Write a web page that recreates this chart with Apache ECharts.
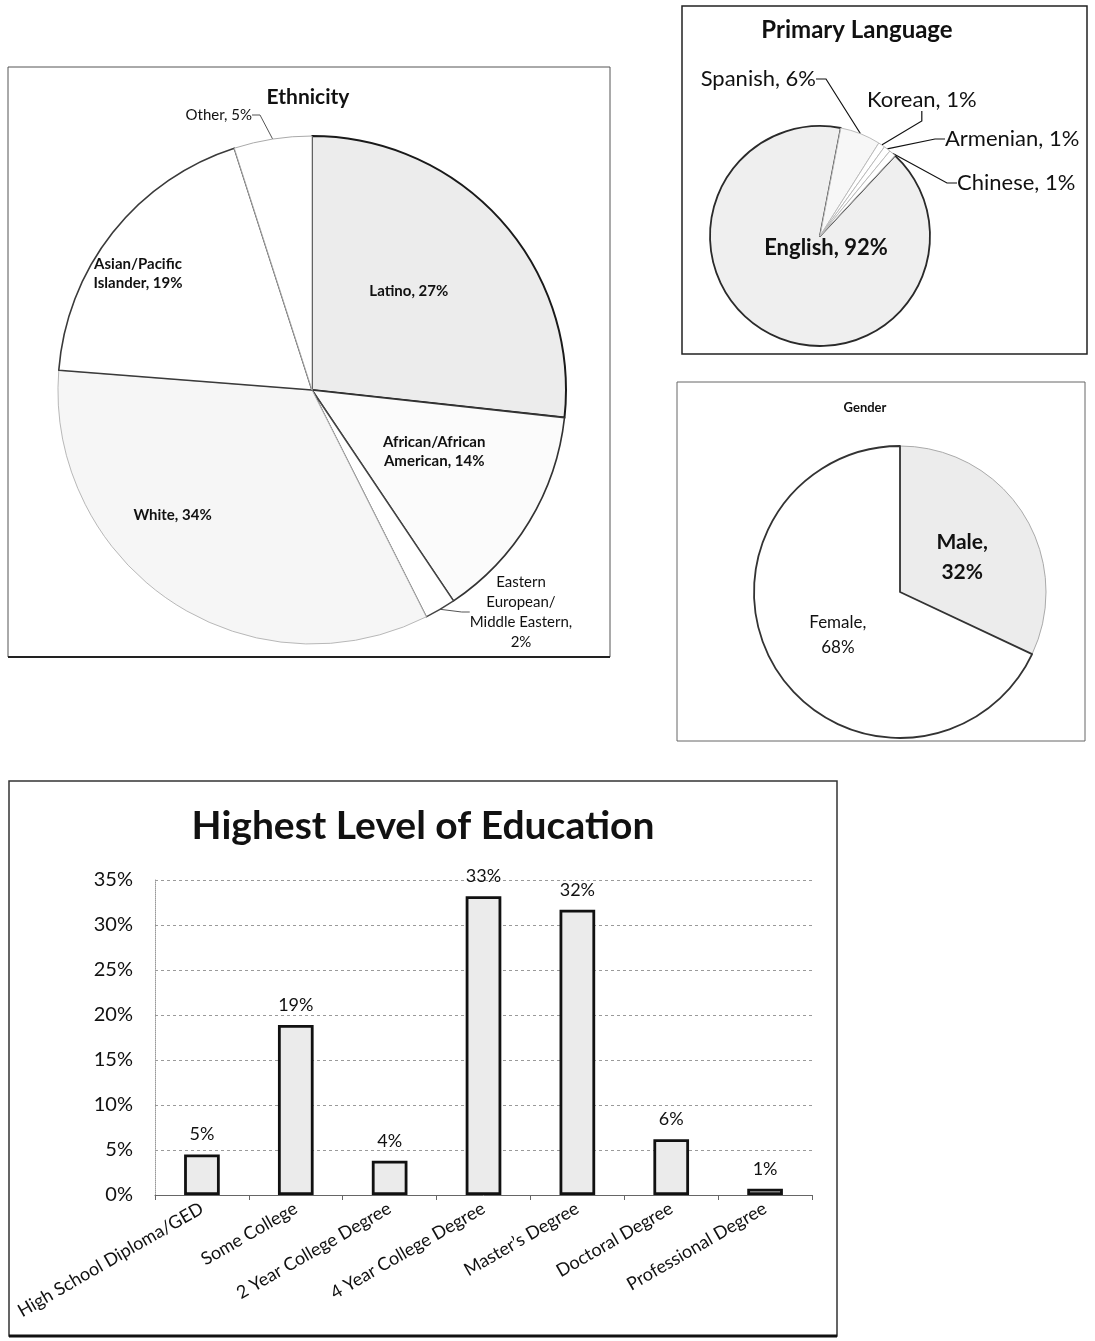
<!DOCTYPE html>
<html>
<head>
<meta charset="utf-8">
<script src="https://cdn.jsdelivr.net/npm/echarts@6/dist/echarts.min.js"></script>
<style>
  html, body { margin: 0; padding: 0; background: #ffffff; }
  #chart { width: 1095px; height: 1341px; }
</style>
</head>
<body>
<div id="chart"></div>
<script>
// ---------- data ----------
const ethnicityNames = ['Latino', 'African/African\nAmerican', 'Eastern\nEuropean/\nMiddle Eastern', 'White', 'Asian/Pacific\nIslander', 'Other'];
const ethnicityValues = [27, 14, 2, 34, 19, 5];

const languageNames = ['English', 'Spanish', 'Korean', 'Armenian', 'Chinese'];
const languageValues = [92, 6, 1, 1, 1];

const genderNames = ['Male', 'Female'];
const genderValues = [32, 68];

const educationCategories = ['High School Diploma/GED', 'Some College', '2 Year College Degree', '4 Year College Degree', 'Master\u2019s Degree', 'Doctoral Degree', 'Professional Degree'];
const educationValues = [4.5, 18.9, 3.8, 33.2, 31.7, 6.2, 0.7];
const educationTicks = [0, 5, 10, 15, 20, 25, 30, 35];

// ---------- styles ----------
const FONT = 'Lato, "Open Sans", "DejaVu Sans", sans-serif';

const ethnicityStyles = [
  { color: '#ececec', borderColor: '#1a1a1a', borderWidth: 2 },
  { color: '#fbfbfb', borderColor: '#333', borderWidth: 1.6 },
  { color: '#ffffff', borderColor: '#444', borderWidth: 1.4 },
  { color: '#f6f6f6', borderColor: '#b8b8b8', borderWidth: 1 },
  { color: '#ffffff', borderColor: '#3a3a3a', borderWidth: 1.6 },
  { color: '#ffffff', borderColor: '#aaa', borderWidth: 1 }
];
const ethnicityOutside = [false, false, true, false, false, true];

const languageStyles = [
  { color: '#efefef', borderColor: '#2a2a2a', borderWidth: 1.8 },
  { color: '#f7f7f7', borderColor: '#bbb', borderWidth: 1 },
  { color: '#ffffff', borderColor: '#bbb', borderWidth: 1 },
  { color: '#ffffff', borderColor: '#bbb', borderWidth: 1 },
  { color: '#ffffff', borderColor: '#bbb', borderWidth: 1 }
];

const genderStyles = [
  { color: '#ececec', borderColor: '#aaa', borderWidth: 1 },
  { color: '#ffffff', borderColor: '#333', borderWidth: 1.8 }
];

const ethnicityData = ethnicityNames.map((n, i) => ({
  name: n,
  value: ethnicityValues[i],
  itemStyle: ethnicityStyles[i],
  label: ethnicityOutside[i]
    ? { position: 'outside', fontWeight: 'normal', fontSize: 15, lineHeight: 20 }
    : { position: 'inside', fontWeight: 'bold', fontSize: 15, lineHeight: 19 },
  labelLine: { show: ethnicityOutside[i] }
}));

const languageData = languageNames.map((n, i) => ({
  name: n,
  value: languageValues[i],
  itemStyle: languageStyles[i],
  label: i === 0
    ? { position: 'center', fontWeight: 'bold', fontSize: 22 }
    : { position: 'outside', fontWeight: 'normal', fontSize: 22 },
  labelLine: { show: i !== 0 }
}));

const genderData = genderNames.map((n, i) => ({
  name: n,
  value: genderValues[i],
  itemStyle: genderStyles[i],
  label: i === 0
    ? { fontWeight: 'bold', fontSize: 21, lineHeight: 30 }
    : { fontWeight: 'normal', fontSize: 17, lineHeight: 25 }
}));

const chart = echarts.init(document.getElementById('chart'), null, { renderer: 'canvas' });

const option = {
  backgroundColor: '#ffffff',
  animation: false,
  textStyle: { fontFamily: FONT },
  graphic: [
    // panel frames
    { type: 'rect', shape: { x: 8, y: 67, width: 602, height: 590 }, style: { fill: 'none', stroke: '#555', lineWidth: 1 } },
    { type: 'line', shape: { x1: 8, y1: 657, x2: 610, y2: 657 }, style: { stroke: '#222', lineWidth: 2 } },
    { type: 'rect', shape: { x: 682, y: 6, width: 405, height: 348 }, style: { fill: 'none', stroke: '#222', lineWidth: 1.5 } },
    { type: 'rect', shape: { x: 677, y: 382, width: 408, height: 359 }, style: { fill: 'none', stroke: '#666', lineWidth: 1 } },
    { type: 'rect', shape: { x: 9, y: 781, width: 828, height: 555 }, style: { fill: 'none', stroke: '#333', lineWidth: 1.5 } },
    { type: 'line', shape: { x1: 9, y1: 1336, x2: 837, y2: 1336 }, style: { stroke: '#111', lineWidth: 3 } },
    // titles
    { type: 'text', x: 308, y: 97, style: { text: 'Ethnicity', font: 'bold 21px ' + FONT, fill: '#111', align: 'center', verticalAlign: 'middle' } },
    { type: 'text', x: 857, y: 30, style: { text: 'Primary Language', font: 'bold 24px ' + FONT, fill: '#111', align: 'center', verticalAlign: 'middle' } },
    { type: 'text', x: 865, y: 408, style: { text: 'Gender', font: 'bold 13px ' + FONT, fill: '#111', align: 'center', verticalAlign: 'middle' } },
    { type: 'text', x: 423, y: 826, style: { text: 'Highest Level of Education', font: 'bold 39px ' + FONT, fill: '#111', align: 'center', verticalAlign: 'middle' } }
  ],
  grid: {
    left: 155, right: 283, top: 880, bottom: 146,
    outerBoundsMode: 'none', containLabel: false
  },
  xAxis: {
    type: 'category',
    data: educationCategories,
    axisLine: { show: true, lineStyle: { color: '#666', width: 1 } },
    axisTick: { show: true, alignWithLabel: false, length: 5, lineStyle: { color: '#666' } },
    axisLabel: { interval: 0, rotate: 30, fontSize: 18, color: '#111', margin: 12, fontFamily: FONT }
  },
  yAxis: {
    type: 'value',
    min: educationTicks[0],
    max: educationTicks[educationTicks.length - 1],
    interval: educationTicks[1] - educationTicks[0],
    axisLine: { show: true, lineStyle: { color: '#999', width: 1, type: 'dotted' } },
    axisTick: { show: false },
    axisLabel: { fontSize: 20, color: '#111', margin: 22, formatter: v => v + '%', fontFamily: FONT },
    splitLine: { show: true, lineStyle: { color: '#9a9a9a', type: [3, 3], width: 1 } }
  },
  series: [
    {
      type: 'pie',
      name: 'Ethnicity',
      center: [312, 390],
      radius: 254,
      startAngle: 90,
      clockwise: true,
      avoidLabelOverlap: false,
      data: ethnicityData,
      label: {
        color: '#111',
        fontFamily: FONT,
        formatter: p => p.name + (p.dataIndex === 2 ? ',\n' : ', ') + p.value + '%'
      },
      labelLine: { length: 12, length2: 8, lineStyle: { color: '#555', width: 1 } },
      labelLayout: function (p) {
        if (p.dataIndex === 0) return { dy: -12 };
        if (p.dataIndex === 1) return { dx: 11, dy: -6 };
        if (p.dataIndex === 3) return { dx: -67, dy: 17 };
        if (p.dataIndex === 4) return { dx: -72, dy: -36 };
        if (p.dataIndex === 5) return { x: 252, y: 115, align: 'right' };
        if (p.dataIndex === 2) return { x: 521, y: 612, align: 'center' };
        return {};
      },
      emphasis: { disabled: true }
    },
    {
      type: 'pie',
      name: 'Primary Language',
      center: [820, 236],
      radius: 110,
      startAngle: 47,
      clockwise: true,
      avoidLabelOverlap: false,
      data: languageData,
      label: {
        color: '#111',
        fontFamily: FONT,
        formatter: '{b}, {c}%'
      },
      labelLine: { length: 10, length2: 10, lineStyle: { color: '#111', width: 1.2 } },
      labelLayout: function (p) {
        if (p.dataIndex === 0) return { dx: 6, dy: 12 };
        if (p.dataIndex === 1) return { x: 816, y: 79, align: 'right' };
        if (p.dataIndex === 2) return { x: 867, y: 100, align: 'left' };
        if (p.dataIndex === 3) return { x: 945, y: 139, align: 'left' };
        if (p.dataIndex === 4) return { x: 957, y: 183, align: 'left' };
        return {};
      },
      emphasis: { disabled: true }
    },
    {
      type: 'pie',
      name: 'Gender',
      center: [900, 592],
      radius: 146,
      startAngle: 90,
      clockwise: true,
      data: genderData,
      label: {
        position: 'inside',
        color: '#111',
        fontFamily: FONT,
        formatter: p => p.name + ',\n' + p.value + '%'
      },
      labelLine: { show: false },
      labelLayout: function (p) {
        if (p.dataIndex === 0) return { dx: -2, dy: 6 };
        if (p.dataIndex === 1) return { dx: 2, dy: 2 };
        return {};
      },
      emphasis: { disabled: true }
    },
    {
      type: 'bar',
      name: 'Highest Level of Education',
      data: educationValues,
      barWidth: '38%',
      itemStyle: { color: '#ebebeb', borderColor: '#111', borderWidth: 2.8 },
      label: {
        show: true,
        position: 'top',
        distance: 11,
        fontSize: 18,
        color: '#111',
        fontFamily: FONT,
        formatter: p => Math.round(p.value) + '%'
      },
      emphasis: { disabled: true }
    }
  ]
};

chart.setOption(option);
</script>
</body>
</html>
